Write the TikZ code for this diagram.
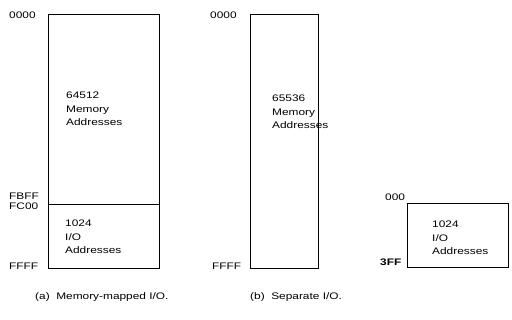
\documentclass[tikz,border=0pt]{standalone}
\usepackage{fontspec}
\setmainfont[FakeStretch=1.25]{Liberation Sans}
\begin{document}
\begin{tikzpicture}[x=1pt,y=-1pt,
  box/.style={draw=black,line width=1.3pt},
  lbl/.style={inner sep=0pt,font=\fontsize{9.5}{13.5}\selectfont,text=black},
  blk/.style={lbl,align=left,anchor=north west}]
\useasboundingbox (0,0) rectangle (512,320);
% (a)
\node[box,minimum width=111pt,minimum height=190pt,anchor=north west,inner sep=0] (memA) at (48,14) {};
\node[box,minimum width=111pt,minimum height=64pt,anchor=north west,inner sep=0] (ioA) at (48,204) {};
\node[blk] (tA) at (66,92) {64512\\Memory\\Addresses};
\node[blk] (tIOA) at (65,220) {1024\\I/O\\Addresses};
\node[lbl,anchor=west] (a0) at (9,15) {0000};
\node[lbl,anchor=west] (a1) at (9,196) {FBFF};
\node[lbl,anchor=west] (a2) at (9,206) {FC00};
\node[lbl,anchor=west] (a3) at (9,266) {FFFF};
\node[lbl,anchor=west] (capA) at (35,297) {(a)\ \ Memory-mapped I/O.};
% (b)
\node[box,minimum width=68pt,minimum height=254pt,anchor=north west,inner sep=0] (memB) at (250,14) {};
\node[blk] (tB) at (272,95) {65536\\Memory\\Addresses};
\node[lbl,anchor=west] (b0) at (210,15) {0000};
\node[lbl,anchor=west] (b1) at (212,266) {FFFF};
\node[lbl,anchor=west] (capB) at (250,297) {(b)\ \ Separate I/O.};
% (c)
\node[box,minimum width=101pt,minimum height=64pt,anchor=north west,inner sep=0] (ioC) at (407,203) {};
\node[blk] (tC) at (432,221) {1024\\I/O\\Addresses};
\node[lbl,anchor=west] (c0) at (385,197) {000};
\node[lbl,anchor=west,font=\fontsize{9.5}{13.5}\selectfont\bfseries] (c1) at (380,262) {3FF};
\end{tikzpicture}
\end{document}
